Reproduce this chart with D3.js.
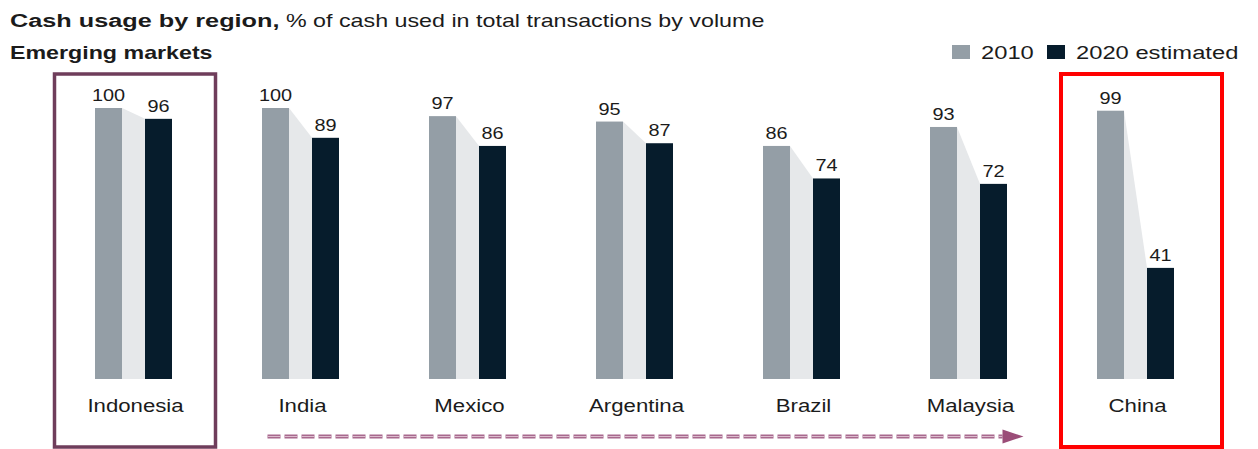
<!DOCTYPE html>
<html>
<head>
<meta charset="utf-8">
<script src="https://cdn.jsdelivr.net/npm/d3@7"></script>
<style>
  html, body { margin: 0; padding: 0; background: #fff; }
  svg { display: block; font-family: "Liberation Sans", Arial, sans-serif; }
</style>
</head>
<body>
<svg id="chart" width="1258" height="449"></svg>
<script>
const categories = ["Indonesia", "India", "Mexico", "Argentina", "Brazil", "Malaysia", "China"];
const values2010 = [100, 100, 97, 95, 86, 93, 99];
const values2020 = [96, 89, 86, 87, 74, 72, 41];
const seriesNames = ["2010", "2020 estimated"];
const highlights = [
  { category: "Indonesia", color: "#6f3d5b", width: 3.5, shift: 1.5 },
  { category: "China", color: "#ff0000", width: 4, shift: 6 }
];

const C2010 = "#949ea6", C2020 = "#061c2c", CLINK = "#e6e8ea", TEXT = "#1b1b1b";

const svg = d3.select("#chart");

const x = d3.scaleBand().domain(categories).range([50, 1219]).paddingInner(0).paddingOuter(0);
const y = d3.scaleLinear().domain([0, 100]).range([379, 108]);
const inner = d3.scaleBand().domain(["a", "link", "b"]).range([-38.5, 38.5]);
inner.bandwidth();
const barW = 27, linkW = 23;

function txt(sel, px, py, sx) {
  return sel.attr("transform", `translate(${px},${py}) scale(${sx},1)`);
}

// title
const title = txt(svg.append("text"), 10, 27, 1.33).attr("fill", TEXT);
title.append("tspan").attr("font-weight", "bold").attr("font-size", 19).text("Cash usage by region,");
title.append("tspan").attr("font-size", 17.5).text(" % of cash used in total transactions by volume");

txt(svg.append("text"), 10, 59, 1.29).attr("font-weight", "bold").attr("font-size", 18)
  .attr("fill", TEXT).text("Emerging markets");

// legend
const legend = svg.append("g");
const legendX = [952, 1047];
[C2010, C2020].forEach((c, i) => {
  legend.append("rect").attr("x", legendX[i]).attr("y", 45).attr("width", 18).attr("height", 14).attr("fill", c);
  txt(legend.append("text"), legendX[i] + 29, 59, 1.32).attr("font-size", 18).attr("fill", TEXT).text(seriesNames[i]);
});

const data = categories.map((c, i) => ({ c, v1: values2010[i], v2: values2020[i] }));

const groups = svg.append("g").selectAll("g").data(data).join("g")
  .attr("transform", d => `translate(${x(d.c) + x.bandwidth() / 2},0)`);

// connector
groups.append("path").attr("fill", CLINK)
  .attr("d", d => {
    const x0 = -linkW / 2, x1 = linkW / 2;
    return `M${x0},${y(d.v1)}L${x1},${y(d.v2)}L${x1},${y(0)}L${x0},${y(0)}Z`;
  });

groups.append("rect").attr("fill", C2010)
  .attr("x", -linkW / 2 - barW).attr("width", barW)
  .attr("y", d => y(d.v1)).attr("height", d => y(0) - y(d.v1));
groups.append("rect").attr("fill", C2020)
  .attr("x", linkW / 2).attr("width", barW)
  .attr("y", d => y(d.v2)).attr("height", d => y(0) - y(d.v2));

groups.each(function(d) {
  const g = d3.select(this);
  txt(g.append("text"), -linkW / 2 - barW / 2, y(d.v1) - 7, 1.17).attr("text-anchor", "middle")
    .attr("font-size", 17).attr("fill", TEXT).text(d.v1);
  txt(g.append("text"), linkW / 2 + barW / 2, y(d.v2) - 7, 1.17).attr("text-anchor", "middle")
    .attr("font-size", 17).attr("fill", TEXT).text(d.v2);
  txt(g.append("text"), 2, 412, 1.2).attr("text-anchor", "middle")
    .attr("font-size", 18.5).attr("fill", TEXT).text(d.c);
});

// highlight boxes
highlights.forEach(h => {
  const cx = x(h.category) + x.bandwidth() / 2 + h.shift;
  svg.append("rect").attr("x", cx - 80.5).attr("y", 74).attr("width", 161).attr("height", 373)
    .attr("fill", "none").attr("stroke", h.color).attr("stroke-width", h.width);
});

// dashed arrow
const ax0 = x("India") + x.bandwidth() / 2 - 33;
const ax1 = x("Malaysia") + x.bandwidth() / 2 + 34;
const ay = 436.5;
svg.append("line").attr("x1", ax0).attr("x2", ax1).attr("y1", ay).attr("y2", ay)
  .attr("stroke", "#a8698e").attr("stroke-width", 4).attr("stroke-dasharray", "13,4");
svg.append("line").attr("x1", ax0).attr("x2", ax1).attr("y1", ay).attr("y2", ay)
  .attr("stroke", "#dcbccd").attr("stroke-width", 1.2).attr("stroke-dasharray", "13,4");
svg.append("path").attr("fill", "#9b4d78")
  .attr("d", `M${ax1},${ay - 7}L${ax1 + 21},${ay}L${ax1},${ay + 7}Z`);
</script>
</body>
</html>
